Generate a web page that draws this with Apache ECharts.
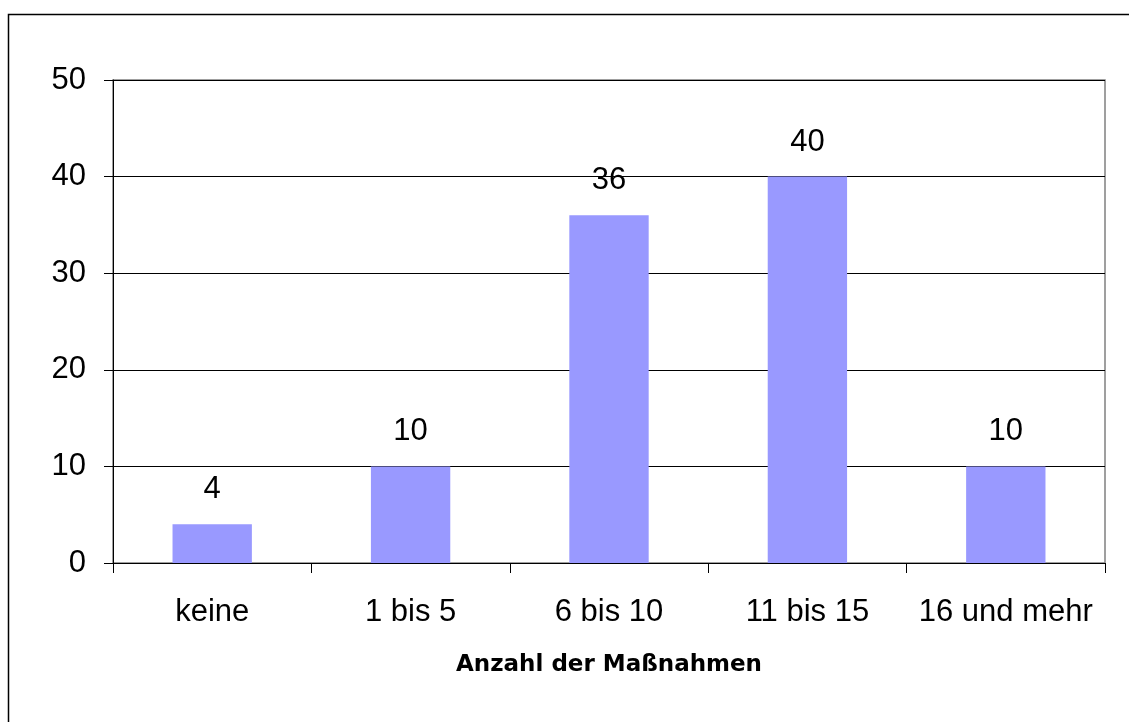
<!DOCTYPE html>
<html>
<head>
<meta charset="utf-8">
<script src="https://cdn.jsdelivr.net/npm/echarts@6/dist/echarts.min.js"></script>
<style>
  html, body { margin: 0; padding: 0; background: #fff; }
  #chart { width: 1129px; height: 722px; }
</style>
</head>
<body>
<div id="chart"></div>
<script>
// Kategorien und Werte
const categories = ['keine', '1 bis 5', '6 bis 10', '11 bis 15', '16 und mehr'];
const values = [4, 10, 36, 40, 10];
const xTitle = 'Anzahl der Maßnahmen';

const chart = echarts.init(document.getElementById('chart'));
chart.setOption({
  backgroundColor: '#ffffff',
  animation: false,
  textStyle: { fontFamily: 'Liberation Sans, Arial, sans-serif' },
  graphic: [{
    type: 'rect',
    shape: { x: 8.5, y: 14.5, width: 1200, height: 800 },
    style: { fill: null, stroke: '#000', lineWidth: 1.5 },
    z: -1
  }],
  grid: {
    left: 113, right: 24, top: 80, bottom: 159,
    show: true, borderColor: '#808080', borderWidth: 1.5, backgroundColor: 'transparent'
  },
  xAxis: {
    type: 'category',
    data: categories,
    name: xTitle,
    nameLocation: 'middle',
    nameGap: 91,
    nameTextStyle: { fontSize: 23, fontWeight: 'bold', color: '#000', fontFamily: 'DejaVu Sans' },
    axisLine: { lineStyle: { color: '#000', width: 1 } },
    axisTick: { show: true, interval: 0, length: 10, lineStyle: { color: '#000' } },
    axisLabel: { interval: 0, fontSize: 31, color: '#000', margin: 34 }
  },
  yAxis: {
    type: 'value',
    min: 0, max: 50, interval: 10,
    axisLine: { show: true, lineStyle: { color: '#000', width: 1 } },
    axisTick: { show: true, length: 9, lineStyle: { color: '#000' } },
    axisLabel: { fontSize: 31, color: '#000', margin: 27 },
    splitLine: { show: true, lineStyle: { color: '#000', width: 1 } }
  },
  series: [{
    type: 'bar',
    data: values,
    barWidth: '40%',
    itemStyle: { color: '#9999ff' },
    label: {
      show: true, position: 'top', distance: 19,
      fontSize: 31, color: '#000'
    }
  }]
});
</script>
</body>
</html>
